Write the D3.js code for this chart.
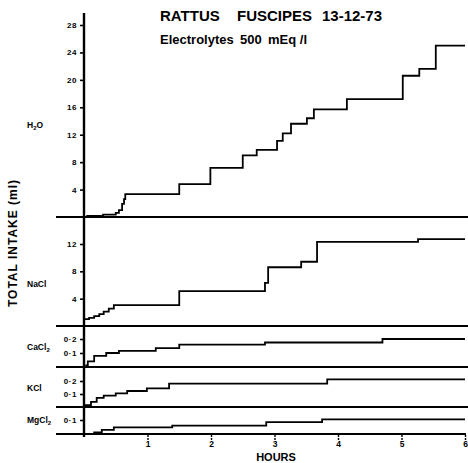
<!DOCTYPE html>
<html><head><meta charset="utf-8">
<script src="https://cdn.jsdelivr.net/npm/d3@7"></script>
<style>
html,body{margin:0;padding:0;background:#fff;}
svg text{font-family:"Liberation Sans",Arial,sans-serif;font-weight:bold;fill:#000;}
</style></head>
<body>
<svg id="chart" width="468" height="463"></svg>
<script>
// ---- data (hours, cumulative intake ml) ----
const hourTicks = [1, 2, 3, 4, 5, 6];

const h2oHours  = [0, 0.05, 0.3, 0.5, 0.55, 0.6, 0.63, 0.65, 1.5, 1.99, 2.5, 2.72, 3.04, 3.13, 3.26, 3.51, 3.62, 4.14, 5.02, 5.28, 5.54, 6.0];
const h2oValues = [0, 0.15, 0.35, 0.6, 1.0, 1.9, 2.6, 3.35, 4.8, 7.15, 9.0, 9.8, 11.1, 12.2, 13.6, 14.4, 15.7, 17.2, 20.6, 21.6, 25.0, 25.0];
const h2oTicks  = [4, 8, 12, 16, 20, 24, 28];

const naclHours  = [0, 0.08, 0.16, 0.24, 0.31, 0.39, 0.47, 1.5, 2.85, 2.9, 3.42, 3.67, 5.26, 6.0];
const naclValues = [1.0, 1.2, 1.45, 1.75, 2.1, 2.55, 3.05, 5.1, 6.3, 8.6, 9.4, 12.3, 12.7, 12.7];
const naclTicks  = [4, 8, 12];

const cacl2Hours  = [0.02, 0.06, 0.16, 0.35, 0.55, 1.13, 1.5, 2.85, 4.7, 6.0];
const cacl2Values = [0.012, 0.04, 0.08, 0.1, 0.115, 0.135, 0.16, 0.175, 0.2, 0.2];
const cacl2Ticks  = [0.1, 0.2];

const kclHours  = [0, 0.03, 0.11, 0.2, 0.31, 0.5, 0.68, 0.99, 1.34, 3.83, 6.0];
const kclValues = [0, 0.015, 0.04, 0.07, 0.087, 0.105, 0.123, 0.144, 0.18, 0.213, 0.213];
const kclTicks  = [0.1, 0.2];

const mgcl2Hours  = [0, 0.16, 0.28, 0.47, 1.39, 2.87, 3.75, 6.0];
const mgcl2Values = [0, 0.012, 0.03, 0.048, 0.06, 0.085, 0.105, 0.105];
const mgcl2Ticks  = [0.1];

// ---- layout ----
const svg = d3.select("#chart");
const x = d3.scaleLinear().domain([0, 6]).range([84, 465]);
const sepLeft = 56, sepRight = 468;

const panels = [
  {name: "H2O",   hours: h2oHours,   values: h2oValues,   ticks: h2oTicks,   domain: [0, 28],  range: [217, 25],  fmt: d3.format("d"),  label: ["H", "2", "O"], labelY: 128},
  {name: "NaCl",  hours: naclHours,  values: naclValues,  ticks: naclTicks,  domain: [0, 12],  range: [326, 244], fmt: d3.format("d"),  label: ["NaCl"], labelY: 287},
  {name: "CaCl2", hours: cacl2Hours, values: cacl2Values, ticks: cacl2Ticks, domain: [0, 0.2], range: [367, 339], fmt: d => d3.format(".1f")(d).replace(".", "·"), label: ["CaCl", "2", ""], labelY: 350},
  {name: "KCl",   hours: kclHours,   values: kclValues,   ticks: kclTicks,   domain: [0, 0.2], range: [407, 381], fmt: d => d3.format(".1f")(d).replace(".", "·"), label: ["KCl"], labelY: 391},
  {name: "MgCl2", hours: mgcl2Hours, values: mgcl2Values, ticks: mgcl2Ticks, domain: [0, 0.1], range: [434, 420], fmt: d => d3.format(".1f")(d).replace(".", "·"), label: ["MgCl", "2", ""], labelY: 423}
];

panels.forEach(p => {
  const y = d3.scaleLinear().domain(p.domain).range(p.range);
  // baseline separator
  svg.append("line")
    .attr("x1", sepLeft).attr("x2", p.name === "MgCl2" ? 466 : sepRight)
    .attr("y1", y(0)).attr("y2", y(0))
    .attr("stroke", "#000").attr("stroke-width", 2.2);
  // axis ticks
  const ax = svg.append("g").attr("transform", "translate(84,0)")
    .call(d3.axisLeft(y).tickValues(p.ticks).tickSize(4).tickPadding(3).tickFormat(p.fmt));
  ax.select(".domain").remove();
  ax.selectAll(".tick line").attr("stroke", "#000").attr("stroke-width", 1.6);
  ax.selectAll(".tick text").style("font-size", "8px").attr("letter-spacing", "0.6");
  // series
  const line = d3.line().x(d => x(d[0])).y(d => y(d[1])).curve(d3.curveStepAfter);
  svg.append("path")
    .datum(p.hours.map((h, i) => [h, p.values[i]]))
    .attr("d", line)
    .attr("fill", "none").attr("stroke", "#000").attr("stroke-width", 1.8);
  // panel label
  const t = svg.append("text").attr("x", 27).attr("y", p.labelY).style("font-size", "8.5px");
  if (p.label.length === 1) {
    t.text(p.label[0]);
  } else {
    t.append("tspan").text(p.label[0]);
    t.append("tspan").attr("dy", 2).style("font-size", "6px").text(p.label[1]);
    if (p.label[2]) t.append("tspan").attr("dy", -2).text(p.label[2]);
  }
});

// vertical axis line
svg.append("line").attr("x1", 84).attr("x2", 84).attr("y1", 13).attr("y2", 437)
  .attr("stroke", "#000").attr("stroke-width", 2.4);

// bottom hour axis
const xa = svg.append("g").attr("transform", "translate(0,435)")
  .call(d3.axisBottom(x).tickValues(hourTicks).tickSize(5).tickPadding(1).tickFormat(d3.format("d")));
xa.select(".domain").remove();
xa.selectAll(".tick line").attr("stroke", "#000").attr("stroke-width", 1.4).attr("stroke-dasharray", "2,1");
xa.selectAll(".tick text").style("font-size", "8.5px");

svg.append("text").attr("x", 276).attr("y", 461).attr("text-anchor", "middle")
  .style("font-size", "11px").text("HOURS");

// y title
svg.append("text").attr("transform", "translate(17,243) rotate(-90)").attr("text-anchor", "middle")
  .style("font-size", "12px").attr("letter-spacing", "1").text("TOTAL INTAKE (ml)");

// title
const title = svg.append("text").attr("y", 21).style("font-size", "15px");
title.append("tspan").attr("x", 160).text("RATTUS");
title.append("tspan").attr("x", 237).text("FUSCIPES");
title.append("tspan").attr("x", 322).text("13-12-73");
const sub = svg.append("text").attr("y", 44).style("font-size", "13px");
sub.append("tspan").attr("x", 160).text("Electrolytes");
sub.append("tspan").attr("x", 240).text("500");
sub.append("tspan").attr("x", 268).text("mEq /l");
</script>
</body></html>
